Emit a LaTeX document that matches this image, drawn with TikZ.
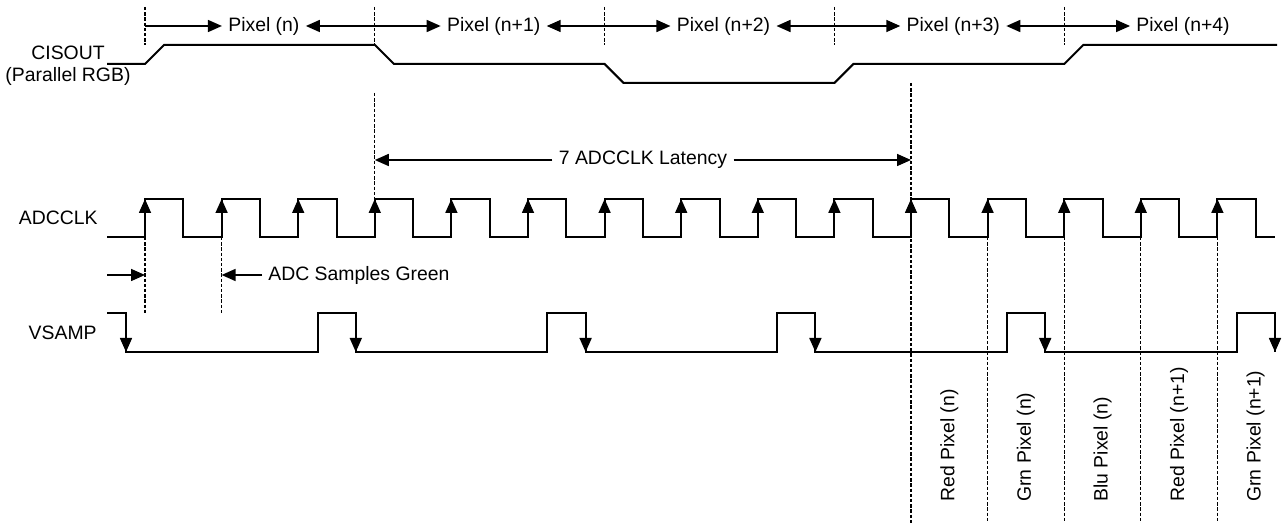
\documentclass[tikz,border=0pt]{standalone}
\usepackage{fontspec}
\setmainfont{Liberation Sans}
\usetikzlibrary{arrows.meta, positioning}

\newcommand{\clk}{76.6}

\begin{document}
\begin{tikzpicture}[
  x=0.5pt, y=-0.5pt,
  wave/.style={line width=1pt},
  guide/.style={line width=0.65pt, dash pattern=on 1.7pt off 0.9pt},
  dim/.style={->, line width=0.8pt},
  lbl/.style={font=\fontsize{9.7}{11.2}\selectfont, inner sep=1pt},
  gap/.style={lbl, inner sep=3pt},
  vlbl/.style={lbl, rotate=90, anchor=west},
  >={Triangle[length=7pt, width=6pt]}
]
  \useasboundingbox (0,0) rectangle (1282,523);

  % signal names
  \node[lbl, align=center] (cis) at (68,66) {CISOUT\\(Parallel RGB)};
  \node[lbl, anchor=east] (adc) at (100,218) {ADCCLK};
  \node[lbl, anchor=east] (vs) at (99,333) {VSAMP};

  % pixel periods
  \foreach \k in {0,...,4}
    \coordinate (b\k) at ({145+3*\k*\clk},26);
  \foreach \k/\txt in {0/Pixel (n), 1/Pixel (n+1), 2/Pixel (n+2), 3/Pixel (n+3), 4/Pixel (n+4)} {
    \node[gap] (px\k) at ({149+3*(\k+0.5)*\clk},26) {\txt};
    \draw[dim] (b\k) -- (px\k.west);
  }
  \foreach \k/\j in {0/1, 1/2, 2/3, 3/4}
    \draw[dim] (b\j) -- (px\k.east);
  \foreach \k in {0,...,4}
    \draw[guide] (b\k) ++(0,-19) -- ++(0,38);

  \draw[wave] (107,64) -- (145,64) -- (164,45) -- (375,45) -- (394,64) -- (604.6,64)
    -- (623.6,83) -- (834.4,83) -- (853.4,64) -- (1064.2,64) -- (1083.2,45) -- (1277,45);

  % latency
  \node[gap] (lat) at (643,160) {7 ADCCLK Latency};
  \coordinate (l0) at (374.8,160);
  \coordinate (l1) at (911,160);
  \draw[dim] (lat.west) -- (l0);
  \draw[dim] (lat.east) -- (l1);

  % ADCCLK
  \draw[wave] (107,237)
    \foreach \k in {0,...,14} { -- ({145+\k*\clk},237) -- ++(0,-38) -- ++(\clk/2,0) -- ++(0,38) }
    -- (1275,237);
  \foreach \k in {0,...,14}
    \draw[dim] ({145+\k*\clk},237) -- ++(0,-38);

  % sampling
  \coordinate (s0) at (145,275);
  \coordinate (s1) at (221.6,275);
  \node[gap, anchor=west] (smp) at (262,275) {ADC Samples Green};
  \draw[dim] (107,275) -- (s0);
  \draw[dim] (smp.west) -- (s1);

  % VSAMP
  \draw[wave] (107,313) -- (126,313) -- (126,352)
    \foreach \k in {1,...,5} { -- ({126+3*\k*\clk-\clk/2},352) -- ++(0,-39) -- ++(\clk/2,0) -- ++(0,39) };
  \foreach \k in {0,...,5}
    \draw[dim] ({126+3*\k*\clk},313) -- ++(0,39);

  % guides
  \draw[guide] (145,237) -- (145,313);
  \draw[guide] (221.6,237) -- (221.6,313);
  \draw[guide] (374.8,93) -- (374.8,199);
  \draw[guide] (l1 |- 0,83) -- (l1 |- 0,523);
  \foreach \k in {11,...,14}
    \draw[guide] ({145+\k*\clk},237) -- ({145+\k*\clk},523);

  % colour slots
  \foreach \k/\txt in {10/Red Pixel (n), 11/Grn Pixel (n), 12/Blu Pixel (n), 13/Red Pixel (n+1), 14/Grn Pixel (n+1)}
    \node[vlbl] (col\k) at ({145+(\k+0.5)*\clk},504) {\txt};
\end{tikzpicture}
\end{document}
